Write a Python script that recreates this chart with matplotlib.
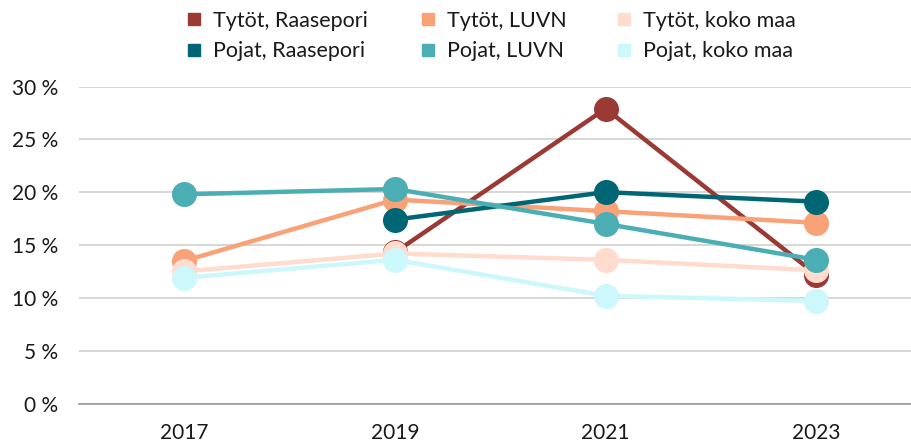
import matplotlib
matplotlib.use("Agg")
import matplotlib.pyplot as plt
from matplotlib.lines import Line2D

plt.rcParams['font.family'] = ['Lato', 'DejaVu Sans']

years = ["2017", "2019", "2021", "2023"]
series_names = ["Tytöt, Raasepori", "Tytöt, LUVN", "Tytöt, koko maa",
                "Pojat, Raasepori", "Pojat, LUVN", "Pojat, koko maa"]
tytot_raasepori = [None, 14.3, 27.9, 12.2]
tytot_luvn = [13.5, 19.3, 18.2, 17.1]
tytot_koko = [12.5, 14.2, 13.6, 12.6]
pojat_raasepori = [None, 17.4, 20.0, 19.1]
pojat_luvn = [19.8, 20.3, 17.0, 13.6]
pojat_koko = [11.9, 13.6, 10.2, 9.7]
colors = ["#9B3A35", "#F9A177", "#FFDCCD", "#006673", "#4BAEB5", "#CCF8FB"]
yticks = [0, 5, 10, 15, 20, 25, 30]

data = [tytot_raasepori, tytot_luvn, tytot_koko, pojat_raasepori, pojat_luvn, pojat_koko]

W, H = 911, 448
fig = plt.figure(figsize=(W / 100, H / 100), dpi=100)
ax = fig.add_axes([79 / W, 1 - 403.5 / H, (W - 79) / W, (403.5 - 86.5) / H])

xs = list(range(len(years)))
for name, vals, c in zip(series_names, data, colors):
    px = [x for x, v in zip(xs, vals) if v is not None]
    py = [v for v in vals if v is not None]
    ax.plot(px, py, color=c, lw=3.2, marker='o', ms=17, mec=c, mfc=c,
            solid_capstyle='butt', zorder=3)

ax.set_ylim(0, 30)
ax.set_xlim(-0.5, 3.45)
ax.set_yticks(yticks)
ax.set_yticklabels([f"{t} %" for t in yticks])
ax.set_xticks(xs)
ax.set_xticklabels(years)
ax.tick_params(axis='both', length=0, labelsize=15, colors='#1a1a1a')
ax.tick_params(axis='y', pad=15)
ax.tick_params(axis='x', pad=14)
ax.grid(axis='y', color='#d0d0d0', lw=1.2, zorder=0)
ax.set_axisbelow(True)
for s in ['top', 'right', 'left']:
    ax.spines[s].set_visible(False)
ax.spines['bottom'].set_color('#999999')
ax.spines['bottom'].set_linewidth(1.2)

# legend: three columns, two rows (Tytöt on top, Pojat below)
fs = 15.5
col_marker_x = [194, 428, 624]
handlelength = 0.8
hl_px = handlelength * fs * 100 / 72
for col in range(3):
    idx = [col, col + 3]
    handles = [Line2D([], [], ls='none', marker='s', ms=8.5, mfc=colors[i], mec=colors[i]) for i in idx]
    labels = [series_names[i] for i in idx]
    left = col_marker_x[col] - hl_px / 2
    leg = fig.legend(handles, labels, loc='center left',
                     bbox_to_anchor=(left / W, 1 - 36 / H),
                     frameon=False, fontsize=fs, handlelength=handlelength,
                     handletextpad=0.5, labelspacing=0.5, borderpad=0, borderaxespad=0)
    for t in leg.get_texts():
        t.set_color('#1a1a1a')

fig.savefig("out.png", dpi=100)
